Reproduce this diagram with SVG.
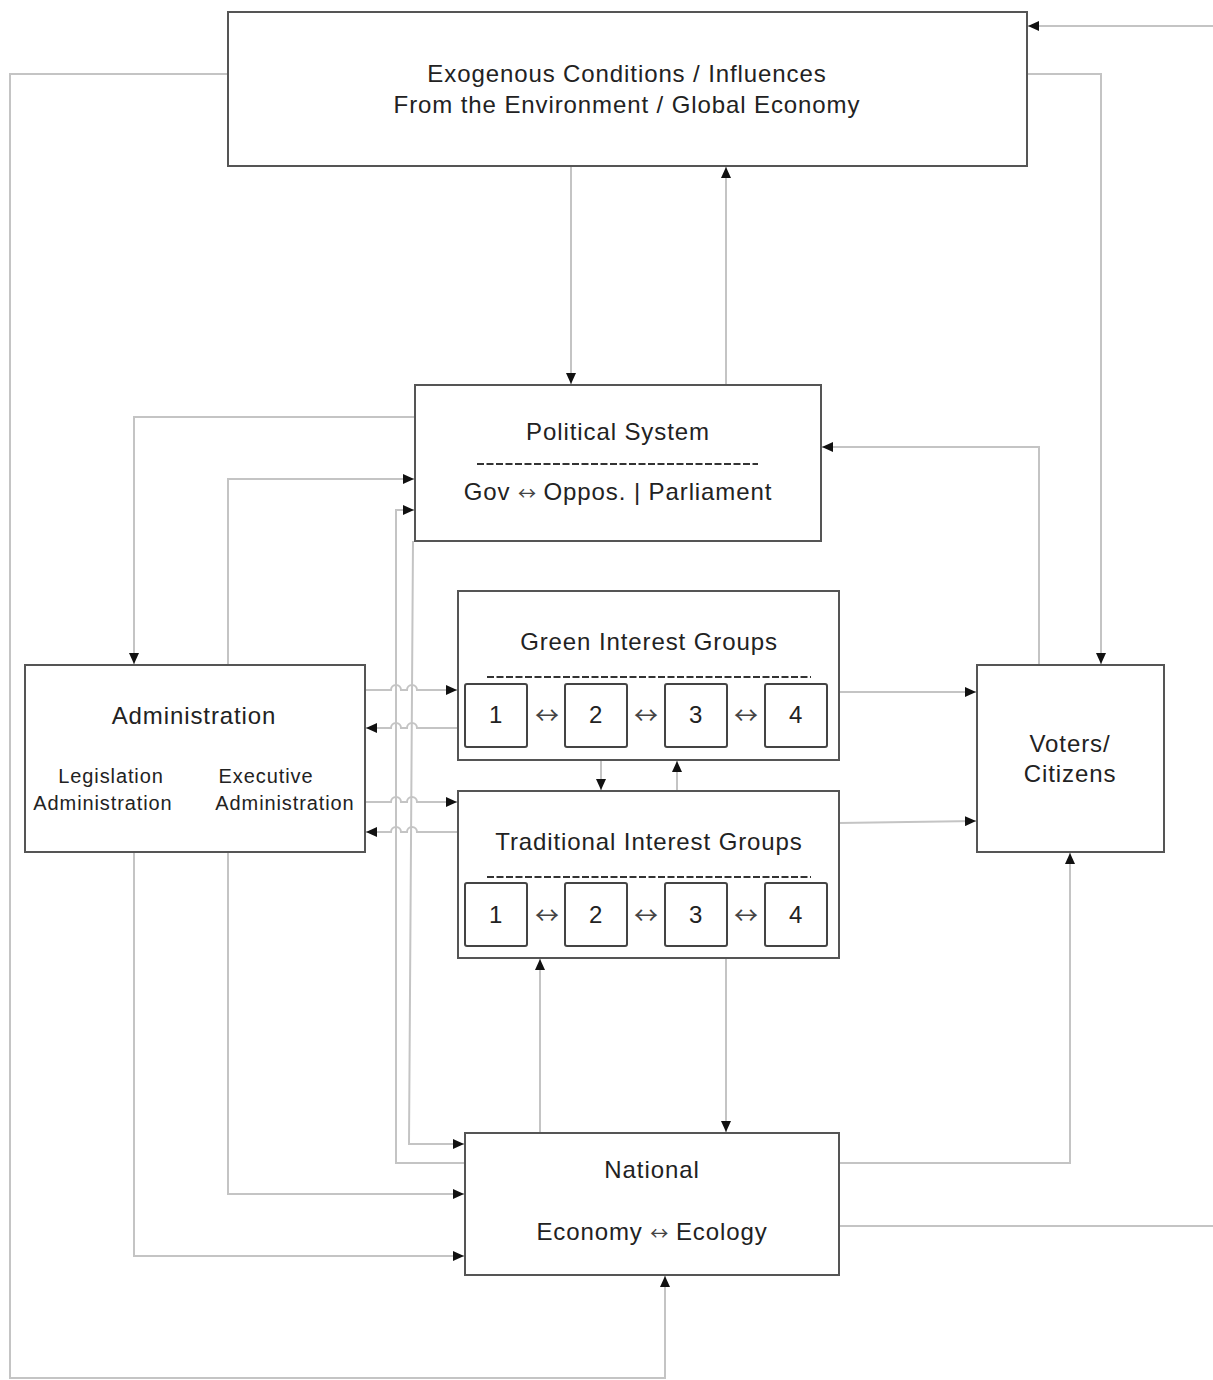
<svg xmlns="http://www.w3.org/2000/svg" width="1213" height="1380" viewBox="0 0 1213 1380">
<style>
.box{fill:#fff;stroke:#555;stroke-width:2}
.sub{fill:#fff;stroke:#444;stroke-width:2}
.c{fill:none;stroke:#c4c4c4;stroke-width:2}
.t{font-family:"Liberation Sans",Arial,sans-serif;font-size:24px;fill:#222;text-anchor:middle;letter-spacing:0.9px}
.s{font-size:20px}
.a{font-family:"Noto Sans CJK JP","Noto Sans CJK SC",sans-serif;font-size:18px;fill:#444;letter-spacing:0}
.b{font-size:24px}
.d{stroke:#333;stroke-width:1.8;stroke-dasharray:7 2.5}
</style>
<defs>
<marker id="ar" markerUnits="userSpaceOnUse" markerWidth="12" markerHeight="10" viewBox="0 0 12 10" refX="11" refY="5" orient="auto">
<path d="M0,0 L11,5 L0,10 z" fill="#111"/>
</marker>
</defs>
<rect width="1213" height="1380" fill="#fff"/>
<g id="connectors">
<path class="c" d="M571,166 V384" marker-end="url(#ar)"/>
<path class="c" d="M726,385 V167" marker-end="url(#ar)"/>
<path class="c" d="M228,74 H10 V1378 H665 V1276" marker-end="url(#ar)"/>
<path class="c" d="M1027,74 H1101 V664" marker-end="url(#ar)"/>
<path class="c" d="M1213,26 H1028" marker-end="url(#ar)"/>
<path class="c" d="M839,1226 H1213"/>
<path class="c" d="M415,417 H134 V664" marker-end="url(#ar)"/>
<path class="c" d="M228,665 V479 H414" marker-end="url(#ar)"/>
<path class="c" d="M465,1163 H396 V510 H414" marker-end="url(#ar)"/>
<path class="c" d="M413,541 L409,1144 H464" marker-end="url(#ar)"/>
<path class="c" d="M365,690 H391 a5,5 0 0 1 10,0 H407 a5,5 0 0 1 10,0 H457" marker-end="url(#ar)"/>
<path class="c" d="M458,728 H417 a5,5 0 0 0 -10,0 H401 a5,5 0 0 0 -10,0 H366" marker-end="url(#ar)"/>
<path class="c" d="M365,802 H391 a5,5 0 0 1 10,0 H407 a5,5 0 0 1 10,0 H457" marker-end="url(#ar)"/>
<path class="c" d="M458,832 H417 a5,5 0 0 0 -10,0 H401 a5,5 0 0 0 -10,0 H366" marker-end="url(#ar)"/>
<path class="c" d="M601,760 V790" marker-end="url(#ar)"/>
<path class="c" d="M677,791 V761" marker-end="url(#ar)"/>
<path class="c" d="M839,692 H976" marker-end="url(#ar)"/>
<path class="c" d="M839,823 L976,821" marker-end="url(#ar)"/>
<path class="c" d="M1039,665 V447 H822" marker-end="url(#ar)"/>
<path class="c" d="M726,958 V1132" marker-end="url(#ar)"/>
<path class="c" d="M540,1133 V959" marker-end="url(#ar)"/>
<path class="c" d="M839,1163 H1070 V853" marker-end="url(#ar)"/>
<path class="c" d="M228,852 V1194 H464" marker-end="url(#ar)"/>
<path class="c" d="M134,852 V1256 H464" marker-end="url(#ar)"/>
</g>
<g id="exogenous">
<rect class="box" x="228" y="12" width="799" height="154"/>
<text class="t" x="627" y="82">Exogenous Conditions / Influences</text>
<text class="t" x="627" y="113">From the Environment / Global Economy</text>
</g>
<g id="political">
<rect class="box" x="415" y="385" width="406" height="156"/>
<text class="t" x="618" y="440">Political System</text>
<line class="d" x1="477" y1="464" x2="758" y2="464"/>
<text class="t" x="618" y="500">Gov <tspan class="a">↔</tspan> Oppos. | Parliament</text>
</g>
<g id="green">
<rect class="box" x="458" y="591" width="381" height="169"/>
<text class="t" x="649" y="650">Green Interest Groups</text>
<line class="d" x1="487" y1="677" x2="811" y2="677"/>
<rect class="sub" x="465" y="684" width="62" height="63" rx="2"/>
<rect class="sub" x="565" y="684" width="62" height="63" rx="2"/>
<rect class="sub" x="665" y="684" width="62" height="63" rx="2"/>
<rect class="sub" x="765" y="684" width="62" height="63" rx="2"/>
<text class="t" x="496" y="723">1</text>
<text class="t" x="596" y="723">2</text>
<text class="t" x="696" y="723">3</text>
<text class="t" x="796" y="723">4</text>
<text class="t a b" x="547" y="724">↔</text>
<text class="t a b" x="646" y="724">↔</text>
<text class="t a b" x="746" y="724">↔</text>
</g>
<g id="traditional">
<rect class="box" x="458" y="791" width="381" height="167"/>
<text class="t" x="649" y="850">Traditional Interest Groups</text>
<line class="d" x1="487" y1="877" x2="811" y2="877"/>
<rect class="sub" x="465" y="883" width="62" height="63" rx="2"/>
<rect class="sub" x="565" y="883" width="62" height="63" rx="2"/>
<rect class="sub" x="665" y="883" width="62" height="63" rx="2"/>
<rect class="sub" x="765" y="883" width="62" height="63" rx="2"/>
<text class="t" x="496" y="923">1</text>
<text class="t" x="596" y="923">2</text>
<text class="t" x="696" y="923">3</text>
<text class="t" x="796" y="923">4</text>
<text class="t a b" x="547" y="924">↔</text>
<text class="t a b" x="646" y="924">↔</text>
<text class="t a b" x="746" y="924">↔</text>
</g>
<g id="administration">
<rect class="box" x="25" y="665" width="340" height="187"/>
<text class="t" x="194" y="724">Administration</text>
<text class="t s" x="111" y="783">Legislation</text>
<text class="t s" x="103" y="810">Administration</text>
<text class="t s" x="266" y="783">Executive</text>
<text class="t s" x="285" y="810">Administration</text>
</g>
<g id="voters">
<rect class="box" x="977" y="665" width="187" height="187"/>
<text class="t" x="1070" y="752">Voters/</text>
<text class="t" x="1070" y="782">Citizens</text>
</g>
<g id="national">
<rect class="box" x="465" y="1133" width="374" height="142"/>
<text class="t" x="652" y="1178">National</text>
<text class="t" x="652" y="1240">Economy <tspan class="a">↔</tspan> Ecology</text>
</g>
</svg>
